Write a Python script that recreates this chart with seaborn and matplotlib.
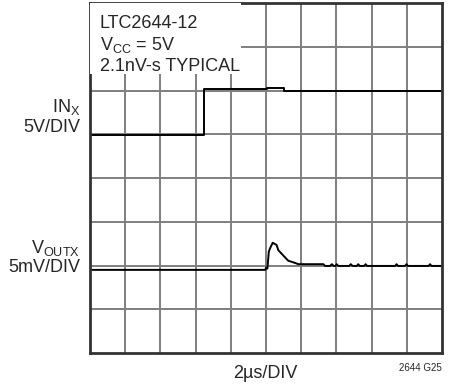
import matplotlib
matplotlib.use("Agg")
import matplotlib.pyplot as plt
import seaborn as sns
import pandas as pd
from matplotlib import font_manager

sns.set_style("white")
names = {f.name for f in font_manager.fontManager.ttflist}
narrow = "Liberation Sans Narrow" if "Liberation Sans Narrow" in names else "Liberation Sans"
plt.rcParams["font.family"] = [narrow, "DejaVu Sans"]

# Time in divisions (2us/div), traces in screen divisions
in_t = [0.0, 3.24, 3.24, 5.02, 5.02, 5.5, 5.5, 10.0]
in_v = [4.98, 4.98, 6.04, 6.04, 6.06, 6.06, 6.0, 6.0]

out_t = [0.0, 4.98, 5.0, 5.04, 5.08, 5.12, 5.19, 5.3, 5.35, 5.63, 5.82, 5.92, 6.63, 6.68,
         6.82, 6.87, 6.92, 6.97, 7.01, 7.05, 7.36, 7.41, 7.46, 7.58, 7.62, 7.66, 7.79, 7.83, 7.87,
         8.67, 8.71, 8.75, 8.95, 8.99, 9.03, 9.62, 9.66, 9.70, 10.0]
out_v = [1.90, 1.90, 1.95, 1.93, 2.32, 2.40, 2.52, 2.47, 2.35, 2.11, 2.06, 2.03, 2.03, 1.99,
         1.99, 2.03, 1.99, 1.99, 2.03, 1.99, 1.99, 2.03, 1.99, 1.99, 2.03, 1.99, 1.99, 2.03, 1.99,
         1.99, 2.03, 1.99, 1.99, 2.03, 1.99, 1.99, 2.03, 1.99, 1.99]

in_df = pd.DataFrame({"t": in_t, "v": in_v})
out_df = pd.DataFrame({"t": out_t, "v": out_v})

fig = plt.figure(figsize=(4.51, 3.85), dpi=100)
ax = fig.add_axes([90 / 451, 32 / 385, 352 / 451, 350 / 385])

ax.set_xlim(0, 10)
ax.set_ylim(0, 8)
ax.set_xticks(range(1, 10))
ax.set_yticks(range(1, 8))
ax.grid(True, color="#7f7f7f", linewidth=1.4)
ax.tick_params(length=0, labelbottom=False, labelleft=False)
for s in ax.spines.values():
    s.set_color("#333333")
    s.set_linewidth(2.0)
ax.set_axisbelow(True)

sns.lineplot(data=in_df, x="t", y="v", sort=False, estimator=None, color="black",
             linewidth=1.4, ax=ax)
sns.lineplot(data=out_df, x="t", y="v", sort=False, estimator=None, color="black",
             linewidth=1.4, ax=ax)
ax.set_xlabel("")
ax.set_ylabel("")

# White note box in the upper-left corner
ax.add_patch(plt.Rectangle((0, 6.37), 4.3, 1.63, transform=ax.transData,
                           facecolor="white", edgecolor="none", zorder=3))
ax.text(0.28, 7.42, "LTC2644-12", fontsize=13, va="baseline", zorder=4)
ax.text(0.28, 6.92, r"V$_{\mathregular{CC}}$ = 5V", fontsize=13, va="baseline", zorder=4)
ax.text(0.28, 6.45, "2.1nV-s TYPICAL", fontsize=13, va="baseline", zorder=4)

# Channel labels left of the axes
fig.text(80 / 451, 1 - 112 / 385, r"IN$_{\mathregular{X}}$", fontsize=13, ha="right", va="baseline")
fig.text(80 / 451, 1 - 132 / 385, "5V/DIV", fontsize=13, ha="right", va="baseline")
fig.text(80 / 451, 1 - 253 / 385, r"V$_{\mathregular{OUTX}}$", fontsize=13, ha="right", va="baseline")
fig.text(80 / 451, 1 - 272 / 385, "5mV/DIV", fontsize=13, ha="right", va="baseline")

fig.text(265 / 451, 1 - 378 / 385, "2µs/DIV", fontsize=13, ha="center", va="baseline")
fig.text(442 / 451, 1 - 371 / 385, "2644 G25", fontsize=7, ha="right", va="baseline")

fig.savefig("out.png", dpi=100)
